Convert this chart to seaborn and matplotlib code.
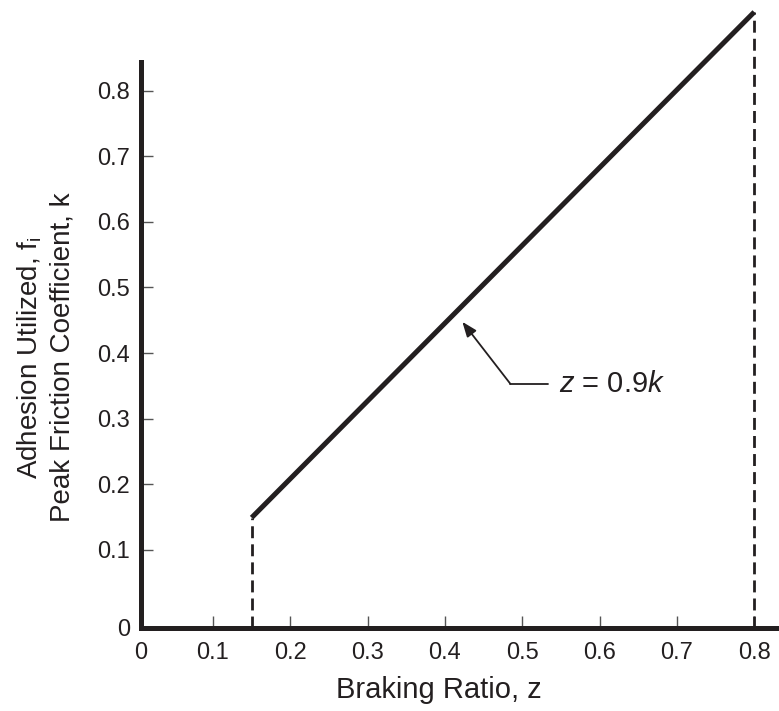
import numpy as np
import pandas as pd
import matplotlib.pyplot as plt
import seaborn as sns

# Data
braking_ratio = [0.15, 0.80]
adhesion = [0.149, 0.92]
z_ticks = [0.1, 0.2, 0.3, 0.4, 0.5, 0.6, 0.7, 0.8]
k_ticks = [0.1, 0.2, 0.3, 0.4, 0.5, 0.6, 0.7, 0.8]
tick_labels = ['0', '0.1', '0.2', '0.3', '0.4', '0.5', '0.6', '0.7', '0.8']

ink = '#231f20'

sns.set_style('white')
plt.rcParams['font.family'] = ['Liberation Sans', 'DejaVu Sans']
plt.rcParams['mathtext.fontset'] = 'custom'
plt.rcParams['mathtext.rm'] = 'Liberation Sans'
plt.rcParams['mathtext.it'] = 'Liberation Sans:italic'

df = pd.DataFrame({'z': braking_ratio, 'k': adhesion})

fig = plt.figure(figsize=(7.79, 7.11), dpi=100)
ax = fig.add_axes([0.181, 0.117, 0.818, 0.796])

sns.lineplot(data=df, x='z', y='k', ax=ax, color=ink, linewidth=3.6,
             clip_on=False, solid_capstyle='butt')

xlim = (0.0069, 0.831)
ylim = (-0.019, 0.844)
ax.set_xlim(xlim)
ax.set_ylim(ylim)

# dashed drop lines at both ends of the line
for zx, ky in zip(braking_ratio, adhesion):
    ax.plot([zx, zx], [ylim[0], ky], color=ink, linewidth=2,
            linestyle=(0, (4.3, 2.2)), clip_on=False)

ax.set_xticks([xlim[0]] + z_ticks)
ax.set_xticklabels(tick_labels)
ax.set_yticks([ylim[0]] + k_ticks)
ax.set_yticklabels(tick_labels)
ax.tick_params(direction='in', length=8.5, width=1, color='#555555',
               labelsize=17, labelcolor=ink, bottom=True, left=True)
ax.tick_params(axis='x', pad=10)
ax.tick_params(axis='y', pad=8)

for side in ['top', 'right']:
    ax.spines[side].set_visible(False)
for side in ['left', 'bottom']:
    ax.spines[side].set_linewidth(3.6)
    ax.spines[side].set_color(ink)

ax.set_xlabel('Braking Ratio, z', fontsize=21, color=ink, va='center')
ax.xaxis.set_label_coords(0.468, -0.11)
ax.set_ylabel('Adhesion Utilized, f$_\\mathregular{i}$\nPeak Friction Coefficient, k',
              fontsize=20, color=ink, linespacing=1.3, va='center')
ax.yaxis.set_label_coords(-0.15, 0.478)

# annotation with elbow leader
ax.annotate('', xy=(0.4225, 0.4476), xytext=(0.4846, 0.353),
            arrowprops=dict(arrowstyle='-|>,head_length=0.9,head_width=0.35',
                            color=ink, lw=1.3, shrinkA=0, shrinkB=0))
ax.plot([0.4846, 0.5337], [0.353, 0.353], color=ink, linewidth=1.3)
ax.text(0.5475, 0.353, '$z$ = 0.9$k$', fontsize=21, color=ink,
        ha='left', va='center')

fig.savefig('out.png', dpi=100)
